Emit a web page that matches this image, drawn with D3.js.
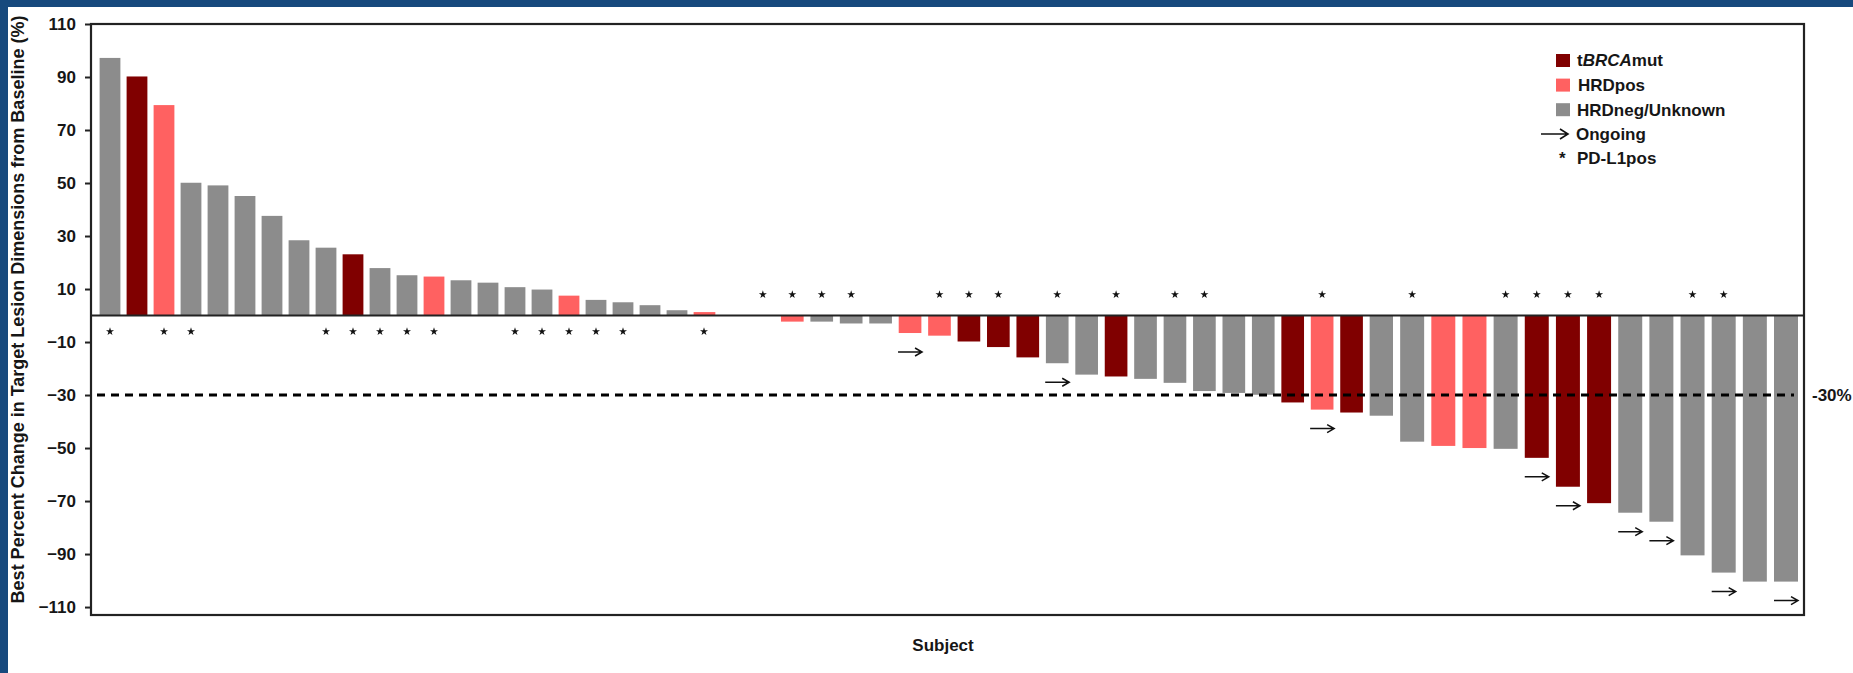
<!DOCTYPE html>
<html>
<head>
<meta charset="utf-8">
<script src="https://cdn.jsdelivr.net/npm/d3@7"></script>
<style>
  html, body { margin: 0; padding: 0; background: #ffffff; }
  svg { display: block; }
  text { font-family: "Liberation Sans", Arial, sans-serif; font-weight: bold; fill: #161616; }
</style>
</head>
<body>
<svg id="chart" width="1853" height="673"></svg>
<script>
// ---------------- data ----------------
const subjects = d3.range(59).map(i => "S" + (i + 1));
const bestChange = [97.2, 90.2, 79.4, 50.1, 49.1, 45.1, 37.6, 28.4, 25.6, 23.1,
  17.9, 15.2, 14.7, 13.3, 12.4, 10.7, 9.8, 7.5, 5.9, 5.0,
  3.9, 2.0, 1.3, 0, 0, -2.3, -2.3, -3, -3, -6.6,
  -7.6, -9.8, -11.9, -15.8, -18, -22.3, -23, -23.9, -25.4, -28.5,
  -29.2, -29.9, -32.8, -35.5, -36.6, -37.8, -47.6, -49.2, -50, -50.3,
  -53.7, -64.6, -70.8, -74.4, -77.8, -90.5, -97, -100.4, -100.4];
// B = tBRCAmut, H = HRDpos, N = HRDneg/Unknown
const status = ["N","B","H","N","N","N","N","N","N","B",
  "N","N","H","N","N","N","N","H","N","N",
  "N","N","H","N","N","H","N","N","N","H",
  "H","B","B","B","N","N","B","N","N","N",
  "N","N","B","H","B","N","N","H","H","N",
  "B","B","B","N","N","N","N","N","N"];
const pdl1Pos = [0,2,3,8,9,10,11,12,15,16,17,18,19,22,24,25,26,27,30,31,32,34,36,38,39,43,46,49,50,51,52,55,56];
const ongoing = [29,34,43,50,51,53,54,56,58];
const yTicks = [110, 90, 70, 50, 30, 10, -10, -30, -50, -70, -90, -110];
const threshold = -30;
const legendLabels = ["tBRCAmut", "HRDpos", "HRDneg/Unknown", "Ongoing", "PD-L1pos"];
const yTitle = "Best Percent Change in Target Lesion Dimensions from Baseline (%)";
const xTitle = "Subject";

// ---------------- setup ----------------
(function () {
const colors = { B: "#800000", H: "#ff6161", N: "#8c8c8c" };
const svg = d3.select("#chart");
const W = 1853, H = 673;
const pLeft = 91, pRight = 1804, pTop = 24, pBottom = 615;

// page frame (blue bands)
svg.append("rect").attr("x", 0).attr("y", 0).attr("width", W).attr("height", H).attr("fill", "#fff");
svg.append("rect").attr("x", 0).attr("y", 0).attr("width", W).attr("height", 7).attr("fill", "#17497d");
svg.append("rect").attr("x", 0).attr("y", 0).attr("width", 8).attr("height", H).attr("fill", "#17497d");

const y = d3.scaleLinear().domain([-113, 110]).range([pBottom, pTop]);
// piecewise linear index scale (subject spacing in the figure is not uniform)
const x = d3.scaleLinear().domain([0, 22, 45, 58]).range([110, 704, 1381, 1786]);
const half = 0.385;

const data = bestChange.map((v, i) => ({ i, id: subjects[i], v, s: status[i] }));

// bars
svg.append("g").selectAll("rect").data(data.filter(d => d.v !== 0)).join("rect")
  .attr("x", d => x(d.i - half))
  .attr("width", d => x(d.i + half) - x(d.i - half))
  .attr("y", d => y(Math.max(0, d.v)))
  .attr("height", d => Math.abs(y(d.v) - y(0)))
  .attr("fill", d => colors[d.s]);

// zero line
svg.append("line").attr("x1", pLeft).attr("x2", pRight).attr("y1", y(0)).attr("y2", y(0))
  .attr("stroke", "#222").attr("stroke-width", 2.2);

// -30% threshold
svg.append("line").attr("x1", pLeft + 6).attr("x2", pRight - 10)
  .attr("y1", y(threshold)).attr("y2", y(threshold))
  .attr("stroke", "#000").attr("stroke-width", 3).attr("stroke-dasharray", "8,6");
svg.append("text").attr("x", pRight + 8).attr("y", y(threshold) + 6)
  .style("font-size", "17px").text(threshold + "%");

// PD-L1 stars
const star = d3.symbol().type(d3.symbolStar).size(20);
svg.append("g").selectAll("path").data(pdl1Pos.map(i => data[i])).join("path")
  .attr("d", star)
  .attr("transform", d => `translate(${x(d.i)},${d.v > 0 ? y(0) + 16 : y(0) - 21})`)
  .attr("fill", "#111");

// ongoing arrows
function arrowPath(cx, cy, len) {
  const x0 = cx - len / 2, x1 = cx + len / 2;
  return `M${x0},${cy}H${x1}M${x1 - 7},${cy - 4}L${x1},${cy}L${x1 - 7},${cy + 4}`;
}
svg.append("g").selectAll("path").data(ongoing.map(i => data[i])).join("path")
  .attr("d", d => arrowPath(x(d.i), y(d.v) + 19, 24))
  .attr("fill", "none").attr("stroke", "#111").attr("stroke-width", 1.5);

// plot frame
svg.append("rect").attr("x", pLeft).attr("y", pTop).attr("width", pRight - pLeft).attr("height", pBottom - pTop)
  .attr("fill", "none").attr("stroke", "#222").attr("stroke-width", 2.2);

// y axis
const yAxis = svg.append("g").attr("transform", `translate(${pLeft},0)`)
  .call(d3.axisLeft(y).tickValues(yTicks).tickSize(6).tickPadding(9).tickFormat(d3.format("d")));
yAxis.select(".domain").remove();
yAxis.selectAll(".tick line").attr("stroke", "#222").attr("stroke-width", 2);
yAxis.selectAll(".tick text").style("font-size", "17px").style("font-family", "'Liberation Sans', Arial, sans-serif")
  .style("font-weight", "bold").attr("fill", "#161616");

// axis titles
svg.append("text").attr("transform", "translate(24,309.5) rotate(-90)")
  .attr("text-anchor", "middle").style("font-size", "18px").text(yTitle);
svg.append("text").attr("x", 943).attr("y", 651).attr("text-anchor", "middle")
  .style("font-size", "17px").text(xTitle);

// legend
const lg = svg.append("g");
const lx = 1556, ly0 = 54, ldy = 24.6;
["B", "H", "N"].forEach((k, j) => {
  lg.append("rect").attr("x", lx).attr("y", ly0 + j * ldy).attr("width", 14).attr("height", 13).attr("fill", colors[k]);
});
const t0 = lg.append("text").attr("x", 1577).attr("y", 66).style("font-size", "17px");
t0.append("tspan").text(legendLabels[0].slice(0, 1));
t0.append("tspan").style("font-style", "italic").text(legendLabels[0].slice(1, 5));
t0.append("tspan").text(legendLabels[0].slice(5));
lg.append("text").attr("x", 1578).attr("y", 91).style("font-size", "17px").text(legendLabels[1]);
lg.append("text").attr("x", 1577).attr("y", 116).style("font-size", "17px").text(legendLabels[2]);
lg.append("path").attr("d", `M1541,134H1568M1560,129L1568,134L1560,139`)
  .attr("fill", "none").attr("stroke", "#111").attr("stroke-width", 1.6);
lg.append("text").attr("x", 1576).attr("y", 140).style("font-size", "17px").text(legendLabels[3]);
lg.append("text").attr("x", 1559).attr("y", 164).style("font-size", "17px").text("*");
lg.append("text").attr("x", 1577).attr("y", 164).style("font-size", "17px").text(legendLabels[4]);
})();
</script>
</body>
</html>
